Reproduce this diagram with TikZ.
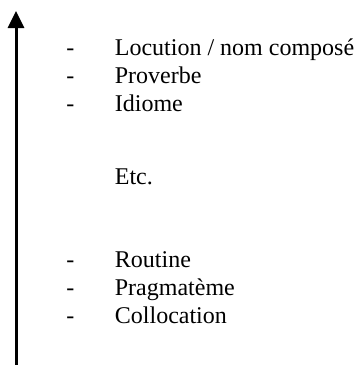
\documentclass[tikz,border=0pt]{standalone}
\usepackage{fontspec}
\setmainfont{Liberation Serif}
\usetikzlibrary{arrows.meta}
\tikzset{
  entry/.style={anchor=base west, inner sep=0pt, font=\fontsize{12}{13.8}\selectfont},
  dashmark/.style={entry},
}
\begin{document}
\begin{tikzpicture}[x=0.5pt, y=-0.5pt]
  \useasboundingbox (0,0) rectangle (358,365);
  % The axis runs up the left edge, from the bottom of the page.
  \coordinate (axisbase) at (16,365);
  \coordinate (axistop) at (16,11);
  \draw[line width=1.5pt, -{Triangle[width=8pt,length=8.5pt]}] (axisbase) -- (axistop);
  % Upper group of the list.
  \node[dashmark] (d1) at (66,55) {-};
  \node[entry] (loc) at (114.5,55) {Locution / nom composé};
  \node[dashmark] (d2) at (66,83) {-};
  \node[entry] (prov) at (114.5,83) {Proverbe};
  \node[dashmark] (d3) at (66,111) {-};
  \node[entry] (idiom) at (114.5,111) {Idiome};
  % Middle line without a dash.
  \node[entry] (etc) at (114.5,184) {Etc.};
  % Lower group of the list.
  \node[dashmark] (d4) at (66,267) {-};
  \node[entry] (rout) at (114.5,267) {Routine};
  \node[dashmark] (d5) at (66,295) {-};
  \node[entry] (prag) at (114.5,295) {Pragmatème};
  \node[dashmark] (d6) at (66,323) {-};
  \node[entry] (coll) at (114.5,323) {Collocation};
\end{tikzpicture}
\end{document}
